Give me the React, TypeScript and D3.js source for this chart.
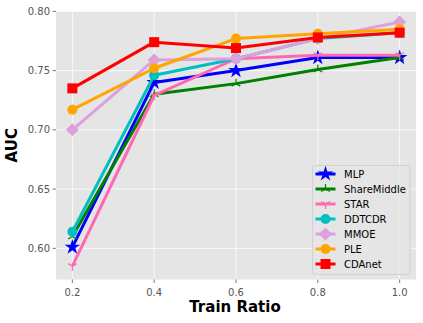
import React from "react";
import * as d3 from "d3";

const ratios = [0.2, 0.4, 0.6, 0.8, 1.0];
const xTicks = [0.2, 0.4, 0.6, 0.8, 1.0];
const yTicks = [0.6, 0.65, 0.7, 0.75, 0.8];

const seriesNames = ["MLP", "ShareMiddle", "STAR", "DDTCDR", "MMOE", "PLE", "CDAnet"];
const mlp = [0.601, 0.740, 0.750, 0.761, 0.761];
const shareMiddle = [0.610, 0.730, 0.739, 0.751, 0.761];
const star = [0.585, 0.729, 0.760, 0.763, 0.763];
const ddtcdr = [0.614, 0.746, 0.760, 0.777, 0.782];
const mmoe = [0.700, 0.759, 0.760, 0.777, 0.791];
const ple = [0.717, 0.752, 0.777, 0.781, 0.785];
const cdanet = [0.735, 0.774, 0.769, 0.778, 0.782];

const seriesValues = [mlp, shareMiddle, star, ddtcdr, mmoe, ple, cdanet];
const colors = ["#0000ff", "#008000", "#ff69b4", "#00bfbf", "#dda0dd", "#ffa500", "#ff0000"];
const markers = ["star", "tri_up", "tri_down", "circle", "diamond", "circle", "square"];

const W = 423, H = 323;
const left = 56, right = 416, top = 11, bottom = 279.5;

function Marker({ type, x, y, color }: { type: string; x: number; y: number; color: string }) {
  const s = 5;
  if (type === "square") return <rect x={x - s} y={y - s} width={2 * s} height={2 * s} fill={color} />;
  if (type === "circle") return <circle cx={x} cy={y} r={s} fill={color} />;
  if (type === "diamond") return <path d={`M${x},${y - 6.5}L${x + 6.5},${y}L${x},${y + 6.5}L${x - 6.5},${y}Z`} fill={color} />;
  if (type === "star") {
    const p = d3.symbol(d3.symbolStar, 75)();
    return <path d={p || ""} transform={`translate(${x},${y})`} fill={color} />;
  }
  const r = 5;
  const dir = type === "tri_up" ? -1 : 1;
  const a1 = (Math.PI / 180) * 30;
  const d = `M${x},${y}L${x},${y + dir * r}M${x},${y}L${x - r * Math.cos(a1)},${y - dir * r * Math.sin(a1)}M${x},${y}L${x + r * Math.cos(a1)},${y - dir * r * Math.sin(a1)}`;
  return <path d={d} stroke={color} strokeWidth={1.2} fill="none" />;
}

export default function App() {
  const x = d3.scaleLinear().domain([0.16, 1.04]).range([left, right]);
  const y = d3.scaleLinear().domain([0.5737, 0.8003]).range([bottom, top]);
  const line = d3.line<number>().x((_, i) => x(ratios[i])).y((v) => y(v));
  const font = "DejaVu Sans, sans-serif";

  const legX = 312.5, legY = 165.5, legW = 97.5, legH = 109;

  return (
    <svg width={W} height={H} style={{ position: "absolute", left: 0, top: 0, background: "#fff" }}>
      <rect x={left} y={top} width={right - left} height={bottom - top} fill="#e5e5e5" />
      {xTicks.map((t) => (
        <line key={"gx" + t} x1={x(t)} x2={x(t)} y1={top} y2={bottom} stroke="#fff" strokeWidth={0.8} />
      ))}
      {yTicks.map((t) => (
        <line key={"gy" + t} x1={left} x2={right} y1={y(t)} y2={y(t)} stroke="#fff" strokeWidth={0.8} />
      ))}
      {xTicks.map((t) => (
        <g key={"tx" + t}>
          <line x1={x(t)} x2={x(t)} y1={bottom} y2={bottom + 3.5} stroke="#555" strokeWidth={0.8} />
          <text x={x(t)} y={bottom + 16} textAnchor="middle" fontFamily={font} fontSize={10} fill="#555">
            {t.toFixed(1)}
          </text>
        </g>
      ))}
      {yTicks.map((t) => (
        <g key={"ty" + t}>
          <line x1={left - 3.5} x2={left} y1={y(t)} y2={y(t)} stroke="#555" strokeWidth={0.8} />
          <text x={left - 6} y={y(t) + 3.5} textAnchor="end" fontFamily={font} fontSize={10} fill="#555">
            {t.toFixed(2)}
          </text>
        </g>
      ))}
      {seriesValues.map((vals, si) => (
        <g key={seriesNames[si]}>
          <path d={line(vals) || ""} fill="none" stroke={colors[si]} strokeWidth={3} strokeLinejoin="round" />
          {vals.map((v, i) => (
            <Marker key={i} type={markers[si]} x={x(ratios[i])} y={y(v)} color={colors[si]} />
          ))}
        </g>
      ))}
      <text x={235} y={312} textAnchor="middle" fontFamily={font} fontSize={15} fontWeight="bold" fill="#000">
        Train Ratio
      </text>
      <text
        transform={`translate(17,${(top + bottom) / 2}) rotate(-90)`}
        textAnchor="middle"
        fontFamily={font}
        fontSize={15}
        fontWeight="bold"
        fill="#000"
      >
        AUC
      </text>
      <rect x={legX} y={legY} width={legW} height={legH} rx={2} fill="#e5e5e5" fillOpacity={0.8} stroke="#cccccc" strokeWidth={0.8} />
      {seriesNames.map((n, i) => {
        const ly = 174 + i * 15;
        return (
          <g key={"leg" + n}>
            <line x1={315.5} x2={335.5} y1={ly} y2={ly} stroke={colors[i]} strokeWidth={3} />
            <Marker type={markers[i]} x={325.5} y={ly} color={colors[i]} />
            <text x={344} y={ly + 3.5} fontFamily={font} fontSize={10} fill="#000">
              {n}
            </text>
          </g>
        );
      })}
    </svg>
  );
}
